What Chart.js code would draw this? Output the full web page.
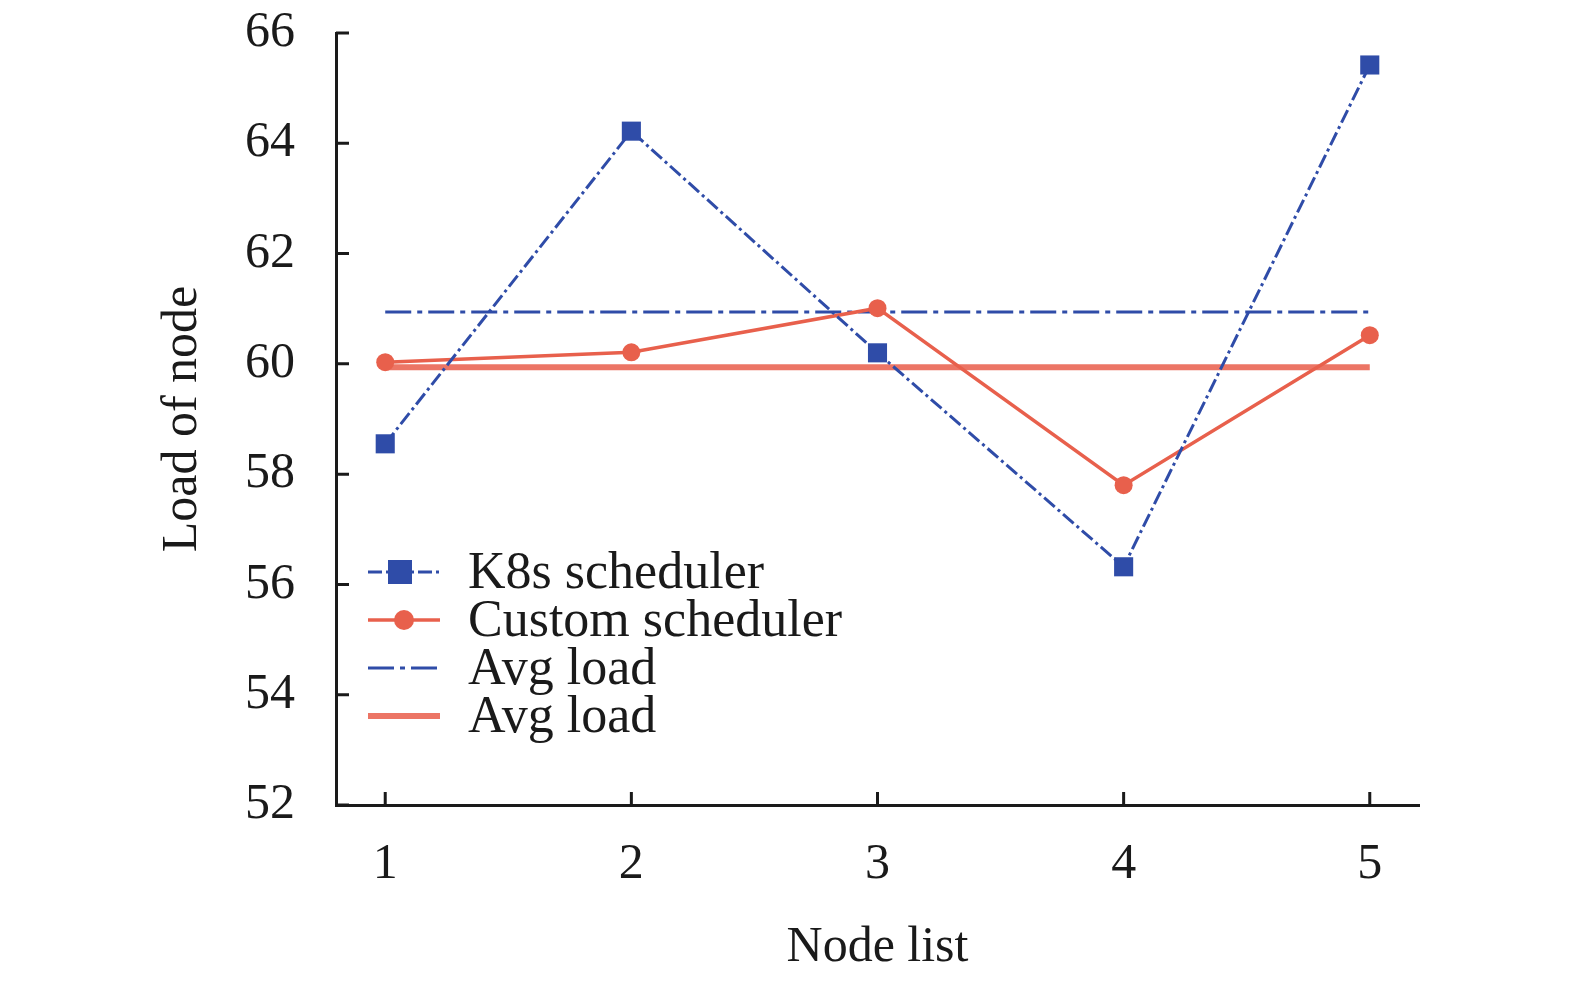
<!DOCTYPE html>
<html>
<head>
<meta charset="utf-8">
<style>
html,body{margin:0;padding:0;background:#fff;}
#wrap{width:1575px;height:984px;}
</style>
<script src="https://cdn.jsdelivr.net/npm/chart.js@4.4.1/dist/chart.umd.min.js"></script>
</head>
<body>
<div id="wrap"><canvas id="c" width="1575" height="984"></canvas></div>
<script>
/* DATA */
const nodes=[1,2,3,4,5];
const k8sLoad=[58.55,64.22,60.2,56.32,65.42];
const customLoad=[60.03,60.21,61.01,57.8,60.52];
const k8sAvg=60.94;
const customAvg=59.94;
const yTicks=[52,54,56,58,60,62,64,66];
const seriesNames=['K8s scheduler','Custom scheduler','Avg load','Avg load'];

const FONT='"Liberation Serif","Times New Roman",serif';
const BLUE='#2f4ca8', RED='#e8604c', RED_SOFT='#ec7565', INK='#1a1a1a';

const pts=vals=>nodes.map((n,i)=>({x:n,y:vals[i]}));
const flat=v=>[{x:nodes[0],y:v},{x:nodes[nodes.length-1],y:v}];

/* ticks pointing into the plot */
const inwardTicks={
  id:'inwardTicks',
  afterDraw(chart){
    const {ctx,scales:{x,y}}=chart;
    ctx.save();
    ctx.strokeStyle=INK;ctx.lineWidth=3;
    ctx.beginPath();
    y.ticks.forEach(t=>{const p=y.getPixelForValue(t.value);ctx.moveTo(x.left,p);ctx.lineTo(x.left+13,p);});
    x.ticks.forEach(t=>{const p=x.getPixelForValue(t.value);ctx.moveTo(p,y.bottom);ctx.lineTo(p,y.bottom-13);});
    ctx.stroke();
    ctx.restore();
  }
};

/* legend inside the plot, lower left */
const inLegend={
  id:'inLegend',
  afterDraw(chart){
    const ctx=chart.ctx;
    const x0=368,x1=440,tx=468,top=572,gap=48;
    chart.data.datasets.forEach((ds,i)=>{
      const yy=top+i*gap;
      ctx.save();
      ctx.strokeStyle=ds.borderColor;ctx.lineWidth=ds.borderWidth;
      ctx.setLineDash(ds.borderDash||[]);
      ctx.beginPath();ctx.moveTo(x0,yy);ctx.lineTo(x1,yy);ctx.stroke();
      ctx.setLineDash([]);
      ctx.fillStyle=ds.borderColor;
      const cx=(x0+x1)/2+(ds.pointStyle==='rect'?-4:0);
      if(ds.pointStyle==='rect'){ctx.fillRect(cx-12,yy-12,24,24);}
      else if(ds.pointRadius>0){ctx.beginPath();ctx.arc(cx,yy,10,0,Math.PI*2);ctx.fill();}
      ctx.fillStyle=INK;
      ctx.font='52px '+FONT;
      ctx.textBaseline='middle';
      ctx.fillText(ds.label,tx,yy+2);
      ctx.restore();
    });
  }
};

new Chart(document.getElementById('c'),{
  type:'line',
  data:{datasets:[
    {label:seriesNames[0],data:pts(k8sLoad),borderColor:BLUE,backgroundColor:BLUE,borderWidth:3,
     borderDash:[14,4,3,4],pointStyle:'rect',pointRadius:13.5,pointBorderWidth:0},
    {label:seriesNames[1],data:pts(customLoad),borderColor:RED,backgroundColor:RED,borderWidth:3.5,
     pointStyle:'circle',pointRadius:9,pointBorderWidth:0},
    {label:seriesNames[2],data:flat(k8sAvg),borderColor:BLUE,borderWidth:3,
     borderDash:[26,6,5,6],pointRadius:0},
    {label:seriesNames[3],data:flat(customAvg),borderColor:RED_SOFT,borderWidth:6,pointRadius:0}
  ]},
  options:{
    responsive:false,animation:false,devicePixelRatio:1,
    layout:{padding:{left:0,top:33,right:156,bottom:0}},
    plugins:{legend:{display:false},tooltip:{enabled:false}},
    elements:{line:{tension:0}},
    scales:{
      x:{type:'linear',min:0.8,max:5.2,
        afterBuildTicks:s=>{s.ticks=nodes.map(v=>({value:v}));},
        afterFit:s=>{s.height=179;s.paddingLeft=0;s.paddingRight=0;},
        grid:{display:true,drawOnChartArea:false,drawTicks:false},
        border:{color:INK,width:3},
        ticks:{padding:30,color:INK,font:{family:FONT,size:50}},
        title:{display:true,text:'Node list',color:INK,font:{family:FONT,size:50},padding:{top:0,bottom:6}}
      },
      y:{min:52,max:66,
        afterBuildTicks:s=>{s.ticks=yTicks.map(v=>({value:v}));},
        afterFit:s=>{s.width=336;s.paddingTop=0;s.paddingBottom=0;},
        grid:{display:true,drawOnChartArea:false,drawTicks:false},
        border:{color:INK,width:3},
        ticks:{padding:41,color:INK,font:{family:FONT,size:50}},
        title:{display:true,text:'Load of node',color:INK,font:{family:FONT,size:50},padding:{top:153,bottom:0}}
      }
    }
  },
  plugins:[inwardTicks,inLegend]
});
</script>
</body>
</html>
